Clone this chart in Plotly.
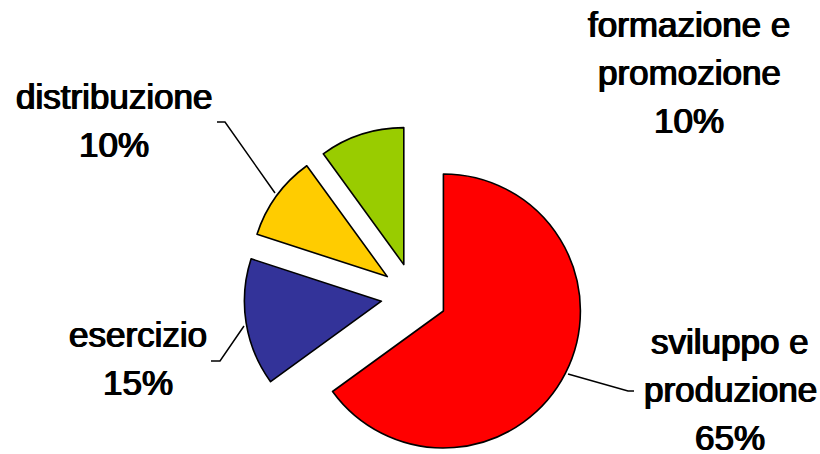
import math
import plotly.graph_objects as go

# ---- data ----
labels = ["sviluppo e produzione", "esercizio", "distribuzione", "formazione e promozione"]
values = [65, 15, 10, 10]
colors = ["#FF0000", "#333399", "#FFCC00", "#99CC00"]
label_lines = [
    ["sviluppo e", "produzione", "65%"],
    ["esercizio", "15%"],
    ["distribuzione", "10%"],
    ["formazione e", "promozione", "10%"],
]

# ---- layout constants (pixels) ----
W, H = 820, 454
CX, CY = 414, 296      # common pie centre before exploding
R = 137                # pie radius
PULL = 33              # explosion distance
FS = 35
LINE_SP = 48
label_pos = [          # (centre x, first baseline y)
    (730, 354),
    (138, 347),
    (114, 109),
    (689, 37),
]
leaders = [
    [(568, 374), (628, 391), (634, 391)],
    [(211, 361), (220, 361), (244, 326)],
    [(217, 122), (225, 122), (275, 193)],
    None,
]


def px_x(x):
    return x / W


def px_y(y):
    return 1 - y / H


fig = go.Figure()
total = sum(values)
cum = 0
for i, v in enumerate(values):
    mid = 2 * math.pi * (cum + v / 2) / total
    cum += v
    sx = CX + PULL * math.sin(mid)
    sy = CY - PULL * math.cos(mid)
    mc = ["rgba(0,0,0,0)"] * len(values)
    mc[i] = colors[i]
    lw = [0] * len(values)
    lw[i] = 1.6
    fig.add_trace(go.Pie(
        labels=labels, values=values, sort=False, direction="clockwise",
        rotation=0, textinfo="none", showlegend=False,
        marker=dict(colors=mc, line=dict(color="black", width=lw)),
        domain=dict(x=[px_x(sx - R), px_x(sx + R)], y=[px_y(sy + R), px_y(sy - R)]),
        hoverinfo="label+percent",
    ))

annotations = []
for (cx, by), lines in zip(label_pos, label_lines):
    for k, t in enumerate(lines):
        base = by + k * LINE_SP
        annotations.append(dict(
            text=t, x=px_x(cx), y=px_y(base - 0.36 * FS), xref="paper", yref="paper",
            xanchor="center", yanchor="middle", showarrow=False,
            font=dict(family="Liberation Sans, Arial, sans-serif", size=FS, color="black",
                      shadow="0.7px 0 0 #000, -0.7px 0 0 #000"),
        ))

shapes = []
for pts in leaders:
    if not pts:
        continue
    path = "M " + " L ".join(f"{px_x(x)},{px_y(y)}" for x, y in pts)
    shapes.append(dict(type="path", path=path, xref="paper", yref="paper",
                       line=dict(color="black", width=1.5)))

fig.update_layout(
    width=W, height=H, margin=dict(l=0, r=0, t=0, b=0),
    paper_bgcolor="white", plot_bgcolor="white",
    annotations=annotations, shapes=shapes,
)
fig.write_html("out.html")
